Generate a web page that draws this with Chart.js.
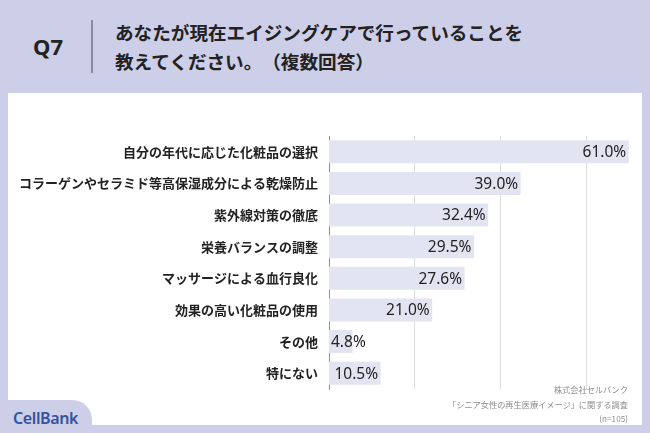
<!DOCTYPE html>
<html lang="ja">
<head>
<meta charset="utf-8">
<script src="https://cdn.jsdelivr.net/npm/chart.js@4"></script>
<style>
  body { margin: 0; width: 650px; height: 433px; background: #cdcee7; position: relative; overflow: hidden;
         font-family: "Noto Sans CJK JP", sans-serif; color: #222; text-spacing-trim: space-all; }
  #q { position: absolute; left: 33px; top: 31px; font: bold 22px "Noto Sans", sans-serif; line-height: 30px; }
  #divider { position: absolute; left: 91px; top: 20px; width: 1.5px; height: 53px; background: #8a8a9a; }
  #title { position: absolute; left: 115px; top: 17px; font-size: 18.6px; font-weight: bold; line-height: 29px; }
  #panel { position: absolute; left: 8px; top: 93px; width: 634px; height: 332px; background: #fff; }
  #tab { position: absolute; left: 0; top: 400px; width: 92px; height: 33px; background: #cdcee7; border-top-right-radius: 20px; }
  #logo { position: absolute; left: 13px; top: 407px; font: 600 16px "Noto Sans", sans-serif; color: #34539f; letter-spacing: -0.4px; }
  #source { position: absolute; right: 22px; top: 382px; text-align: right; font-size: 8.2px; line-height: 14.5px; color: #8c8c8c; }
</style>
</head>
<body>
<div id="q">Q7</div>
<div id="divider"></div>
<div id="title">あなたが現在エイジングケアで行っていることを<br>教えてください。（複数回答）</div>
<div id="panel"><canvas id="chart"></canvas></div>
<div id="tab"></div>
<div id="logo">CellBank</div>
<div id="source">株式会社セルバンク<br>「シニア女性の再生医療イメージ」に関する調査<br>(n=105)</div>
<script>
const categories = [
    "自分の年代に応じた化粧品の選択",
    "コラーゲンやセラミド等高保湿成分による乾燥防止",
    "紫外線対策の徹底",
    "栄養バランスの調整",
    "マッサージによる血行良化",
    "効果の高い化粧品の使用",
    "その他",
    "特にない"
];
const values = [61.0, 39.0, 32.4, 29.5, 27.6, 21.0, 4.8, 10.5];
const gridTicks = [17.5, 35, 52.5];
const axisMax = 63.7;

Chart.defaults.font.family = "'Noto Sans CJK JP', sans-serif";

// 値ラベル（バーの右端内側、短いバーは軸の右から）
const valueLabels = {
    id: "valueLabels",
    afterDatasetsDraw(chart) {
        const ctx = chart.ctx;
        const area = chart.chartArea;
        ctx.save();
        ctx.font = "15.5px 'Noto Sans', sans-serif";
        ctx.fillStyle = "#222";
        ctx.textAlign = "right";
        ctx.textBaseline = "middle";
        chart.getDatasetMeta(0).data.forEach((bar, i) => {
            const text = values[i].toFixed(1) + "%";
            const w = ctx.measureText(text).width;
            const x = Math.max(bar.x - 2.5, area.left + 2 + w);
            ctx.fillText(text, x, bar.y + 1);
        });
        ctx.restore();
    }
};

new Chart(document.getElementById("chart"), {
    type: "bar",
    data: {
        labels: categories,
        datasets: [{
            data: values,
            backgroundColor: "#e3e4f2",
            barPercentage: 0.73,
            categoryPercentage: 1.0
        }]
    },
    options: {
        indexAxis: "y",
        responsive: true,
        maintainAspectRatio: false,
        animation: false,
        layout: { padding: { top: 43, bottom: 36, left: 0, right: 0 } },
        plugins: { legend: { display: false }, tooltip: { enabled: false } },
        scales: {
            x: {
                min: 0,
                max: axisMax,
                afterBuildTicks: (scale) => { scale.ticks = gridTicks.map(v => ({ value: v })); },
                ticks: { display: false },
                grid: { color: "#dcdcdc", lineWidth: 1, drawTicks: false },
                border: { display: false }
            },
            y: {
                afterFit: (scale) => { scale.width = 321; },
                ticks: { color: "#222", padding: 11, font: { size: 13, weight: "bold" } },
                grid: { display: false, drawTicks: false },
                border: { color: "#8f8f8f", width: 1 }
            }
        }
    },
    plugins: [valueLabels]
});
</script>
</body>
</html>
